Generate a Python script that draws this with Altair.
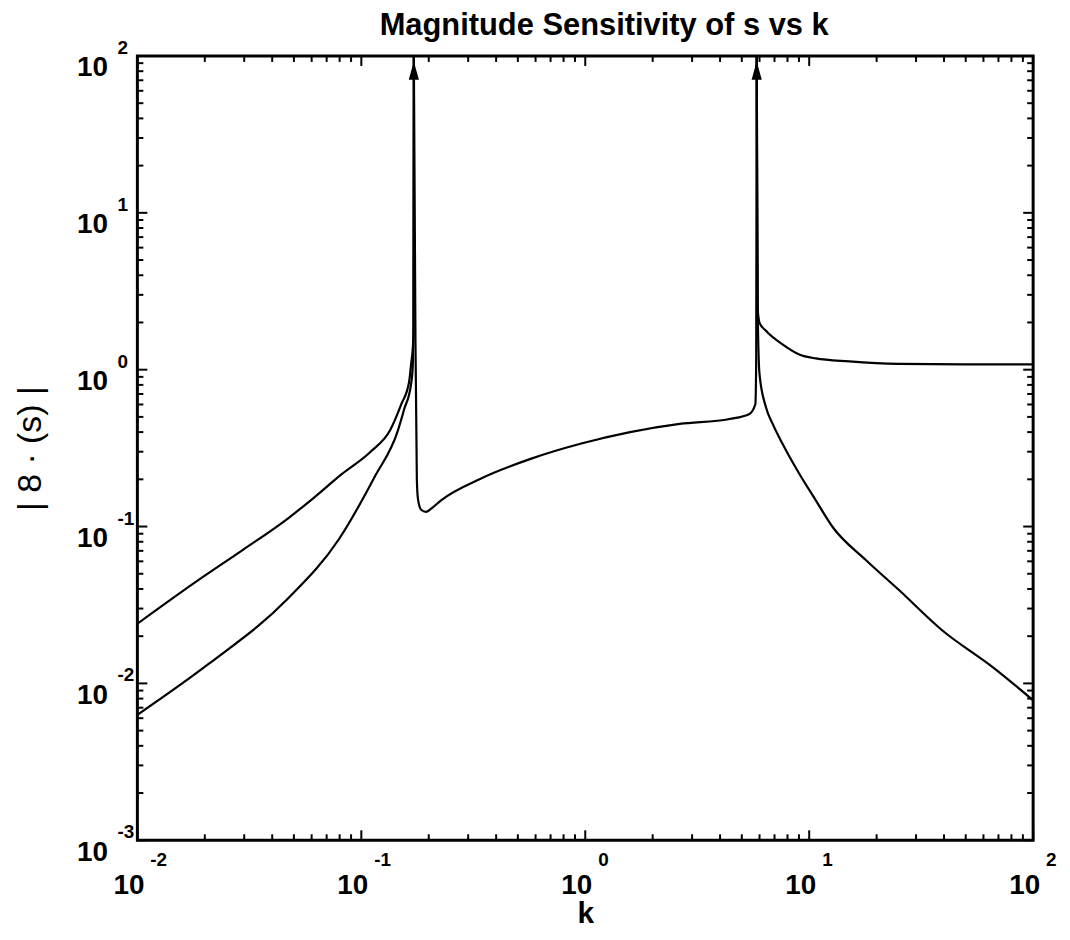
import altair as alt
import pandas as pd

FONT = "Liberation Sans"
W, H = 900, 788

# ---------------- data ----------------
# left upper branch
a_k = [0.01, 0.0187, 0.0296, 0.0468, 0.0598, 0.0815, 0.110, 0.1346, 0.1507, 0.1634, 0.1668, 0.1705, 0.1712, 0.1716]
a_v = [0.024, 0.0455, 0.071, 0.112, 0.148, 0.215, 0.30, 0.412, 0.60, 0.834, 1.08, 1.52, 1.96, 100]
# left lower branch
b_k = [0.01, 0.0208, 0.0468, 0.0794, 0.1146, 0.1456, 0.1552, 0.1668, 0.1695, 0.1708, 0.1716]
b_v = [0.0063, 0.0133, 0.0345, 0.083, 0.207, 0.409, 0.557, 0.81, 1.02, 1.6, 100]
# middle branch between the two poles
c_k = [0.1716, 0.1745, 0.1770, 0.1790, 0.1850, 0.1945, 0.205, 0.227, 0.341, 0.570, 0.951, 1.585, 2.64, 4.41, 5.41, 5.75, 5.80, 5.828]
c_v = [100, 1.5, 0.2, 0.15, 0.128, 0.124, 0.130, 0.147, 0.202, 0.270, 0.337, 0.400, 0.451, 0.485, 0.522, 0.604, 1.2, 100]
# right upper branch
d_k = [5.828, 5.87, 6.0, 6.41, 7.6, 9.03, 10.7, 15.1, 25.1, 50, 100]
d_v = [100, 2.6, 1.99, 1.77, 1.45, 1.25, 1.18, 1.13, 1.09, 1.08, 1.08]
# right lower branch
e_k = [5.828, 5.9, 6.0, 6.41, 6.87, 7.6, 9.03, 10.7, 12.7, 17.9, 25.1, 39.1, 66.4, 100]
e_v = [100, 2.0, 0.937, 0.576, 0.451, 0.337, 0.217, 0.147, 0.0997, 0.0612, 0.0395, 0.0219, 0.0126, 0.0078]

# arrow heads at the poles
arrow_k = [0.1716, 5.828]
arrow_v = [78, 78]

# tick values and exponent labels
x_major = [0.01, 0.1, 1, 10, 100]
x_exp = ["-2", "-1", "0", "1", "2"]
y_major = [0.001, 0.01, 0.1, 1, 10, 100]
y_exp = ["-3", "-2", "-1", "0", "1", "2"]
mult = [2, 3, 4, 5, 6, 7, 8, 9]
x_minor = [m * d for d in [0.01, 0.1, 1, 10] for m in mult]
y_minor = [m * d for d in [0.001, 0.01, 0.1, 1, 10] for m in mult]

rows = []
for seg, ks, vs in [("A", a_k, a_v), ("B", b_k, b_v), ("C", c_k, c_v), ("D", d_k, d_v), ("E", e_k, e_v)]:
    for i, (k, v) in enumerate(zip(ks, vs)):
        rows.append({"seg": seg, "k": k, "v": v, "o": i})
df = pd.DataFrame(rows)

xscale = alt.Scale(type="log", domain=[0.01, 100], nice=False)
yscale = alt.Scale(type="log", domain=[0.001, 100], nice=False)

x_bottom = alt.Axis(orient="bottom", values=x_major, ticks=False, tickSize=0, domain=False, grid=False,
                    labelExpr="'10'", labelFont=FONT, labelFontSize=28, labelFontWeight="bold",
                    labelColor="black", labelPadding=31, labelOffset=-9, labelFlush=False,
                    labelOverlap=False, title="k", titleFont=FONT, titleFontSize=30,
                    titleFontWeight="bold", titleColor="black", titlePadding=0)
y_left = alt.Axis(orient="left", values=y_major, ticks=False, tickSize=0, domain=False, grid=False,
                  labelExpr="'10'", labelFont=FONT, labelFontSize=28, labelFontWeight="bold",
                  labelColor="black", labelPadding=30, labelOffset=12, labelFlush=False,
                  labelOverlap=False, title="| 8 · (s) |", titleFont=FONT, titleFontSize=34,
                  titleFontWeight="normal", titleColor="black", titlePadding=29)

lines = alt.Chart(df).mark_line(color="black", strokeWidth=2.2, clip=True, interpolate="monotone").encode(
    x=alt.X("k:Q", scale=xscale, axis=x_bottom),
    y=alt.Y("v:Q", scale=yscale, axis=y_left),
    detail="seg:N",
    order="o:Q",
)

X = lambda: alt.X("k:Q", scale=xscale)
Y = lambda: alt.Y("v:Q", scale=yscale)

# inward tick marks on all four sides of the frame
def xticks(vals, length):
    d = pd.DataFrame({"k": vals})
    bot = alt.Chart(d).mark_rule(color="black", strokeWidth=2).encode(
        x=X(), y=alt.value(H), y2=alt.value(H - length))
    top = alt.Chart(d).mark_rule(color="black", strokeWidth=2).encode(
        x=X(), y=alt.value(0), y2=alt.value(length))
    return [bot, top]

def yticks(vals, length):
    d = pd.DataFrame({"v": vals})
    left = alt.Chart(d).mark_rule(color="black", strokeWidth=2).encode(
        y=Y(), x=alt.value(0), x2=alt.value(length))
    right = alt.Chart(d).mark_rule(color="black", strokeWidth=2).encode(
        y=Y(), x=alt.value(W), x2=alt.value(W - length))
    return [left, right]

tick_layers = xticks(x_major, 10) + xticks(x_minor, 6) + yticks(y_major, 10) + yticks(y_minor, 6)

arrows = alt.Chart(pd.DataFrame({"k": arrow_k, "v": arrow_v})).mark_point(
    shape="M0,-1L0.45,0.6L-0.45,0.6Z", filled=True, color="black", opacity=1, size=520
).encode(x=X(), y=Y())

xe = alt.Chart(pd.DataFrame({"k": x_major, "t": x_exp})).mark_text(
    font=FONT, fontSize=19, fontWeight="bold", align="left", baseline="middle", dx=13, color="black"
).encode(x=X(), y=alt.value(H + 20), text="t:N")

ye = alt.Chart(pd.DataFrame({"v": y_major, "t": y_exp})).mark_text(
    font=FONT, fontSize=19, fontWeight="bold", align="left", baseline="middle", dy=-8, color="black"
).encode(x=alt.value(-20), y=Y(), text="t:N")

chart = alt.layer(lines, *tick_layers, arrows, xe, ye).properties(
    width=W, height=H,
    padding={"left": 5, "top": 0, "right": 5, "bottom": 5},
    title=alt.TitleParams("Magnitude Sensitivity of s vs k", font=FONT, fontSize=31,
                          fontWeight="bold", color="black", anchor="middle", dx=19, offset=-3),
).configure_view(stroke="black", strokeWidth=3)

chart.save("out.html", embed_options={"renderer": "svg", "actions": False})
